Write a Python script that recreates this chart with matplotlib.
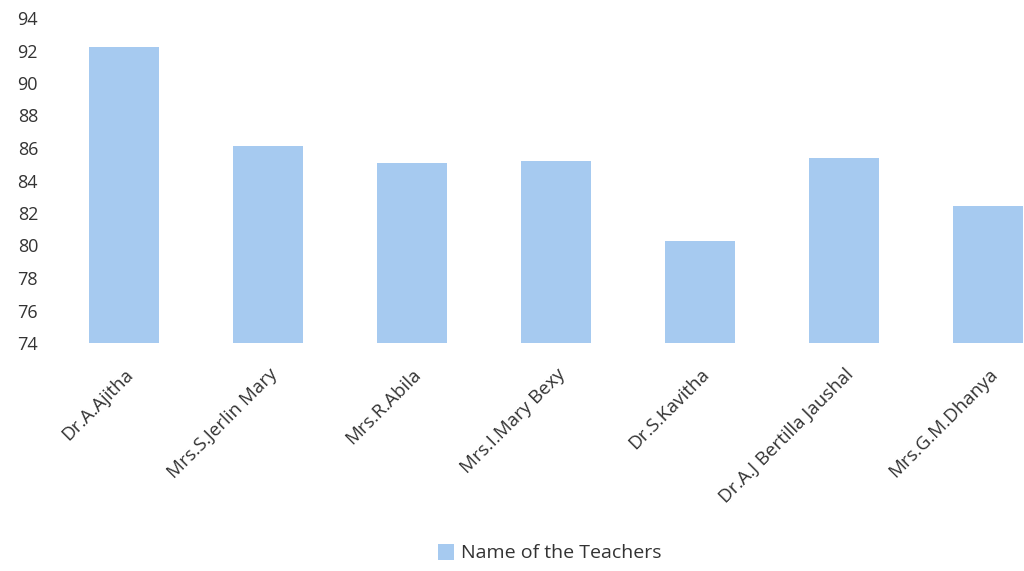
import matplotlib
matplotlib.use("Agg")
import matplotlib.pyplot as plt
import numpy as np

teachers = ["Dr.A.Ajitha", "Mrs.S.Jerlin Mary", "Mrs.R.Abila", "Mrs.I.Mary Bexy",
            "Dr.S.Kavitha", "Dr.A.J Bertilla Jaushal", "Mrs.G.M.Dhanya"]
scores = [92.2, 86.1, 85.1, 85.2, 80.3, 85.4, 82.4]
yticks = list(range(74, 95, 2))

plt.rcParams['font.family'] = ['Open Sans', 'DejaVu Sans']

fig = plt.figure(figsize=(10.24, 5.71), dpi=100)
ax = fig.add_axes([52/1024, 228/571, 1008/1024, 325/571])

x = np.arange(len(teachers))
ax.bar(x, np.array(scores) - 74, bottom=74, width=0.49, color='#a6caf0',
       label='Name of the Teachers')

ax.set_xlim(-0.5, len(teachers) - 0.5)
ax.set_ylim(74, 94)
ax.set_yticks(yticks)
ax.set_yticklabels([str(t) for t in yticks], fontsize=13, color='#333333')
ax.set_xticks(x)
ax.set_xticklabels(teachers, rotation=45, ha='right', rotation_mode='anchor',
                   fontsize=13.5, color='#333333')
ax.tick_params(length=0)
ax.tick_params(axis='y', pad=10)
ax.tick_params(axis='x', pad=16)
for s in ax.spines.values():
    s.set_visible(False)

fig.legend(loc='center', bbox_to_anchor=(550/1024, 1 - 553/571), frameon=False,
           fontsize=14, handlelength=0.8, handleheight=0.9, handletextpad=0.4,
           labelcolor='#333333')

fig.savefig("out.png", dpi=100)
